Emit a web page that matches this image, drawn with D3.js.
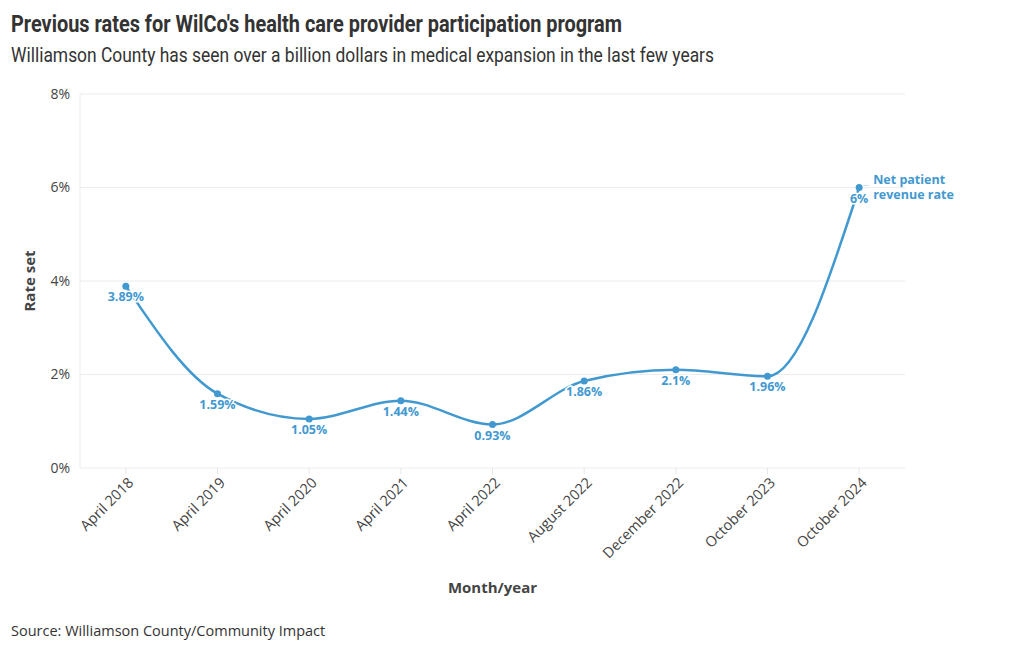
<!DOCTYPE html>
<html><head><meta charset="utf-8">
<script src="https://cdn.jsdelivr.net/npm/d3@7"></script>
<style>
body{margin:0;background:#fff;}
svg{display:block;}
</style></head>
<body>
<svg id="chart" width="1020" height="650"></svg>
<script>
const categories = ["April 2018","April 2019","April 2020","April 2021","April 2022","August 2022","December 2022","October 2023","October 2024"];
const rates = [3.89,1.59,1.05,1.44,0.93,1.86,2.1,1.96,6];
const rateLabels = ["3.89%","1.59%","1.05%","1.44%","0.93%","1.86%","2.1%","1.96%","6%"];
const annotationLines = ["Net patient","revenue rate"];
const yTicks = [0,2,4,6,8];

(function(){
const svg = d3.select("#chart");
const color = "#4299d0";
const pLeft = 80, pRight = 905, pTop = 94, pBottom = 468;
const x = d3.scalePoint().domain(categories).range([pLeft,pRight]).padding(0.5);
const y = d3.scaleLinear().domain([0,8]).range([pBottom,pTop]);
const bodyFont = "'Open Sans', 'Noto Sans', sans-serif";

// title & subtitle
svg.append("text").attr("x",11).attr("y",32).attr("font-family","Roboto, sans-serif")
  .attr("font-weight",700).attr("font-size",23).attr("fill","#333")
  .attr("textLength",611).attr("lengthAdjust","spacingAndGlyphs")
  .text("Previous rates for WilCo's health care provider participation program");
svg.append("text").attr("x",11).attr("y",62).attr("font-family","Roboto, sans-serif")
  .attr("font-weight",400).attr("font-size",20.5).attr("fill","#333")
  .attr("textLength",703).attr("lengthAdjust","spacingAndGlyphs")
  .text("Williamson County has seen over a billion dollars in medical expansion in the last few years");

// gridlines
svg.append("g").selectAll("line").data(yTicks).join("line")
  .attr("x1",pLeft).attr("x2",pRight).attr("y1",d=>y(d)).attr("y2",d=>y(d))
  .attr("stroke","#ececec").attr("stroke-width",1);
svg.append("line").attr("x1",pLeft).attr("x2",pLeft).attr("y1",pTop).attr("y2",pBottom)
  .attr("stroke","#ececec");

// y axis labels
svg.append("g").selectAll("text").data(yTicks).join("text")
  .attr("x",pLeft-10).attr("y",d=>y(d)).attr("dy","0.35em").attr("text-anchor","end")
  .attr("font-family",bodyFont).attr("font-size",14).attr("fill","#444")
  .text(d=>d+"%");

// x ticks
const xg = svg.append("g");
xg.selectAll("line").data(categories).join("line")
  .attr("x1",d=>x(d)).attr("x2",d=>x(d)).attr("y1",pBottom).attr("y2",pBottom+6)
  .attr("stroke","#e6e6e6");
xg.selectAll("text").data(categories).join("text")
  .attr("transform",d=>`translate(${x(d)+5},${pBottom+12}) rotate(-45)`)
  .attr("text-anchor","end").attr("dy","0.35em")
  .attr("font-family",bodyFont).attr("font-size",14.5).attr("fill","#444")
  .text(d=>d);

// axis titles
svg.append("text").attr("transform",`translate(35,${(pTop+pBottom)/2}) rotate(-90)`)
  .attr("text-anchor","middle").attr("font-family",bodyFont).attr("font-weight",700)
  .attr("font-size",15).attr("fill","#444").text("Rate set");
svg.append("text").attr("x",(pLeft+pRight)/2).attr("y",593).attr("text-anchor","middle")
  .attr("font-family",bodyFont).attr("font-weight",700).attr("font-size",15)
  .attr("fill","#444").text("Month/year");

// line
const line = d3.line().x((d,i)=>x(categories[i])).y(d=>y(d)).curve(d3.curveMonotoneX);
svg.append("path").datum(rates).attr("d",line).attr("fill","none")
  .attr("stroke",color).attr("stroke-width",2.5);

// dots
svg.append("g").selectAll("circle").data(rates).join("circle")
  .attr("cx",(d,i)=>x(categories[i])).attr("cy",d=>y(d)).attr("r",3.5).attr("fill",color);

// value labels with white halo
svg.append("g").selectAll("text").data(rates).join("text")
  .attr("x",(d,i)=>x(categories[i])).attr("y",d=>y(d)+15)
  .attr("text-anchor","middle").attr("font-family",bodyFont).attr("font-weight",700)
  .attr("font-size",12.5).attr("fill",color)
  .attr("stroke","#fff").attr("stroke-width",3).attr("paint-order","stroke")
  .text((d,i)=>rateLabels[i]);

// annotation
const lx = x(categories[8]), ly = y(rates[8]);
svg.append("line").attr("x1",lx+4).attr("x2",lx+10).attr("y1",ly-2).attr("y2",ly-2)
  .attr("stroke","#cfe3f2").attr("stroke-width",1);
svg.append("g").selectAll("text").data(annotationLines).join("text")
  .attr("x",lx+14).attr("y",(d,i)=>ly-4+i*15)
  .attr("font-family",bodyFont).attr("font-weight",700)
  .attr("font-size",12.5).attr("fill",color).text(d=>d);

// source
svg.append("text").attr("x",11).attr("y",636).attr("font-family",bodyFont)
  .attr("font-size",14.5).attr("fill","#333").text("Source: Williamson County/Community Impact");
})();
</script>
</body></html>
